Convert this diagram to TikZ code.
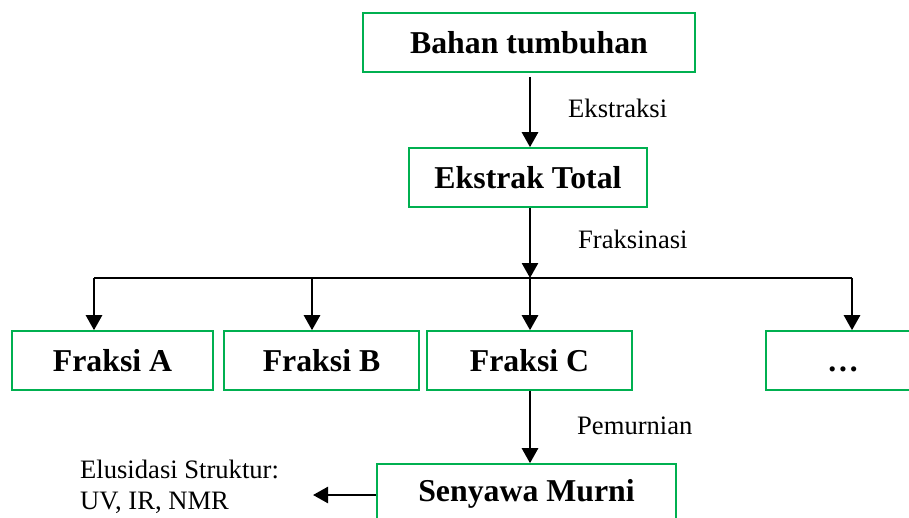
\documentclass[tikz,border=0pt]{standalone}
\usepackage{fontspec}
\setmainfont{Liberation Serif}
\usetikzlibrary{arrows.meta}
\definecolor{boxgreen}{HTML}{00B050}
\begin{document}
\begin{tikzpicture}[x=1pt,y=-1pt,
  box/.style={draw=boxgreen, line width=1.6pt, minimum height=59pt, inner sep=0pt,
    font=\fontsize{31.8}{36}\selectfont\bfseries},
  flow/.style={line width=2.6pt, -{Triangle[width=16pt,length=15pt]}},
  plain/.style={line width=2.2pt},
  lbl/.style={anchor=base west, inner sep=0pt, font=\fontsize{26.6}{31}\selectfont}]
\useasboundingbox (0,0) rectangle (909,517);
\clip (0,0) rectangle (909,517);

% boxes
\node[box, minimum width=332pt] (bahan) at (529,42.5) {Bahan tumbuhan};
\node[box, minimum width=238pt] (ekstrak) at (528,177.5) {Ekstrak Total};
\node[box, minimum width=201pt] (fA) at (112.5,360.5) {Fraksi A};
\node[box, minimum width=195pt] (fB) at (321.5,360.5) {Fraksi B};
\node[box, minimum width=205pt] (fC) at (529.5,360.5) {Fraksi C};
\node[box, minimum width=154pt] (fD) at (843,360.5) {\vphantom{Fraksi}…};
\node[box, minimum width=299pt] (senyawa) at (526.5,493.5) {Senyawa Murni};

% hub coordinates
\coordinate (hA) at (94,278);
\coordinate (hB) at (312,278);
\coordinate (hC) at (530,278);
\coordinate (hD) at (852,278);
\coordinate (elTip) at (313,495);

% connectors
\draw[flow, shorten <=4pt] (hC |- bahan.south) -- (hC |- ekstrak.north);
\draw[flow] (hC |- ekstrak.south) -- (hC);
\draw[plain] (hA) -- (hD);
\draw[flow] (hA) -- (hA |- fA.north);
\draw[flow] (hB) -- (hB |- fB.north);
\draw[flow] (hC) -- (hC |- fC.north);
\draw[flow] (hD) -- (hD |- fD.north);
\draw[flow] (hC |- fC.south) -- (hC |- senyawa.north);
\draw[flow] (senyawa.west |- elTip) -- (elTip);

% labels
\node[lbl] (lEks) at (568,117) {Ekstraksi};
\node[lbl] (lFrak) at (578,248) {Fraksinasi};
\node[lbl] (lPem) at (577,434) {Pemurnian};
\node[lbl] (elus1) at (80,478) {Elusidasi Struktur:};
\node[lbl] (elus2) at (80,509) {UV, IR, NMR};
\end{tikzpicture}
\end{document}
